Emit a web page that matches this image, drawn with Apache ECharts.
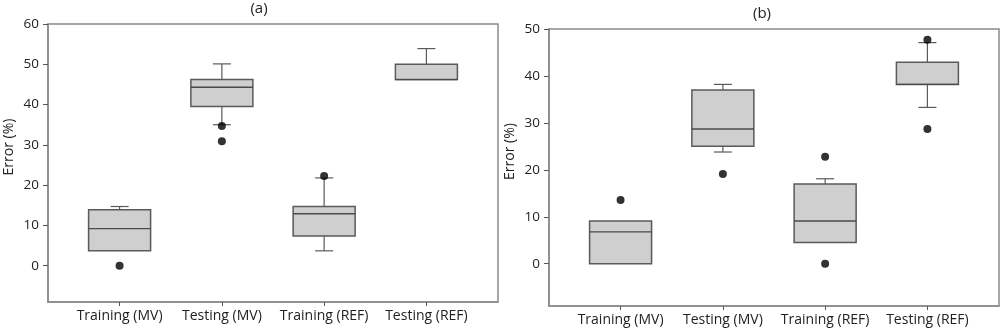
<!DOCTYPE html>
<html>
<head>
<meta charset="utf-8">
<script src="https://cdn.jsdelivr.net/npm/echarts@6/dist/echarts.min.js"></script>
<style>
html,body{margin:0;padding:0;background:#fff;}
#c{width:1000px;height:329px;}
</style>
</head>
<body>
<div id="c"></div>
<script>
// ---- data ----
var categories = ['Training (MV)', 'Testing (MV)', 'Training (REF)', 'Testing (REF)'];
var catPositions = [1, 2, 3, 4];

// panel (a)
var aMin = [3.7, 35.0, 3.7, 46.2];
var aQ1  = [3.7, 39.5, 7.4, 46.2];
var aMed = [9.2, 44.3, 12.9, 46.2];
var aQ3  = [13.9, 46.2, 14.7, 50.0];
var aMax = [14.7, 50.1, 21.8, 53.9];
var aOutliers = [[0], [34.7, 30.9], [22.3], []];
var aTicks = [0, 10, 20, 30, 40, 50, 60];

// panel (b)
var bMin = [0, 23.8, 4.5, 33.3];
var bQ1  = [0, 25.0, 4.5, 38.2];
var bMed = [6.8, 28.7, 9.1, 38.2];
var bQ3  = [9.1, 37.0, 17.0, 42.9];
var bMax = [9.1, 38.2, 18.1, 47.1];
var bOutliers = [[13.6], [19.1], [22.8, 0], [47.7, 28.7]];
var bTicks = [0, 10, 20, 30, 40, 50];

// ---- helpers ----
function boxData(mn, q1, md, q3, mx) {
  return catPositions.map(function (p, i) { return [p, mn[i], q1[i], md[i], q3[i], mx[i]]; });
}
function outlierData(out) {
  var r = [];
  out.forEach(function (arr, i) { arr.forEach(function (v) { r.push([catPositions[i], v]); }); });
  return r;
}
var FONT = '"Open Sans", "DejaVu Sans", sans-serif';
var BOXW = 62, CAPW = 18;
function renderBox(params, api) {
  var x = api.value(0);
  var pMin = api.coord([x, api.value(1)]);
  var pQ1 = api.coord([x, api.value(2)]);
  var pMed = api.coord([x, api.value(3)]);
  var pQ3 = api.coord([x, api.value(4)]);
  var pMax = api.coord([x, api.value(5)]);
  var cx = pMed[0];
  var lineStyle = { stroke: '#5a5a5a', lineWidth: 1.2 };
  var children = [];
  if (pMax[1] < pQ3[1] - 0.5) {
    children.push({ type: 'line', shape: { x1: cx, y1: pQ3[1], x2: cx, y2: pMax[1] }, style: lineStyle });
    children.push({ type: 'line', shape: { x1: cx - CAPW / 2, y1: pMax[1], x2: cx + CAPW / 2, y2: pMax[1] }, style: lineStyle });
  }
  if (pMin[1] > pQ1[1] + 0.5) {
    children.push({ type: 'line', shape: { x1: cx, y1: pQ1[1], x2: cx, y2: pMin[1] }, style: lineStyle });
    children.push({ type: 'line', shape: { x1: cx - CAPW / 2, y1: pMin[1], x2: cx + CAPW / 2, y2: pMin[1] }, style: lineStyle });
  }
  children.push({ type: 'rect', shape: { x: cx - BOXW / 2, y: pQ3[1], width: BOXW, height: pQ1[1] - pQ3[1] },
    style: { fill: '#cfcfcf', stroke: '#5a5a5a', lineWidth: 1.5 } });
  children.push({ type: 'line', shape: { x1: cx - BOXW / 2, y1: pMed[1], x2: cx + BOXW / 2, y2: pMed[1] }, style: { stroke: '#4a4a4a', lineWidth: 1.3 } });
  return { type: 'group', children: children };
}
function xAxisDef(gi) {
  return {
    type: 'value', gridIndex: gi, min: 0.3, max: 4.7,
    axisLine: { show: true, onZero: false, lineStyle: { color: '#8a8a8a', width: 1.5 } },
    axisTick: { show: true, customValues: catPositions, length: 4, lineStyle: { color: '#555' } },
    axisLabel: { show: true, customValues: catPositions, margin: 7, color: '#222', fontSize: 14, fontFamily: FONT,
      formatter: function (v) { var i = catPositions.indexOf(Math.round(v)); return i >= 0 ? categories[i] : ''; } },
    splitLine: { show: false }
  };
}
function yAxisDef(gi, max, ticks) {
  return {
    type: 'value', gridIndex: gi, min: -9, max: max,
    name: 'Error (%)', nameLocation: 'middle', nameGap: 32,
    nameTextStyle: { color: '#222', fontSize: 14, fontFamily: FONT, padding: [0, 0, 0, 32] },
    axisLine: { show: true, onZero: false, lineStyle: { color: '#8a8a8a', width: 1.5 } },
    axisTick: { show: true, customValues: ticks, length: 5, lineStyle: { color: '#555' } },
    axisLabel: { show: true, customValues: ticks, margin: 9, color: '#222', fontSize: 13.5, fontFamily: FONT },
    splitLine: { show: false }
  };
}

var chart = echarts.init(document.getElementById('c'), null, { renderer: 'canvas' });
chart.setOption({
  backgroundColor: '#ffffff',
  animation: false,
  title: [
    { text: '(a)', left: 259, top: 1, padding: 0, textAlign: 'center', textStyle: { fontSize: 15, fontWeight: 'normal', color: '#222', fontFamily: FONT } },
    { text: '(b)', left: 762, top: 6, padding: 0, textAlign: 'center', textStyle: { fontSize: 15, fontWeight: 'normal', color: '#222', fontFamily: FONT } }
  ],
  grid: [
    { left: 48, top: 24, width: 450, height: 278, outerBoundsMode: 'none', containLabel: false, show: true, borderColor: '#8a8a8a', borderWidth: 1.5, backgroundColor: 'transparent' },
    { left: 549, top: 29, width: 450, height: 277, outerBoundsMode: 'none', containLabel: false, show: true, borderColor: '#8a8a8a', borderWidth: 1.5, backgroundColor: 'transparent' }
  ],
  xAxis: [xAxisDef(0), xAxisDef(1)],
  yAxis: [yAxisDef(0, 60, aTicks), yAxisDef(1, 50, bTicks)],
  series: [
    { type: 'custom', xAxisIndex: 0, yAxisIndex: 0, renderItem: renderBox, data: boxData(aMin, aQ1, aMed, aQ3, aMax), encode: { x: 0, y: [1, 2, 3, 4, 5] } },
    { type: 'scatter', xAxisIndex: 0, yAxisIndex: 0, symbol: 'circle', symbolSize: 8, itemStyle: { color: '#000' }, data: outlierData(aOutliers), z: 5 },
    { type: 'custom', xAxisIndex: 1, yAxisIndex: 1, renderItem: renderBox, data: boxData(bMin, bQ1, bMed, bQ3, bMax), encode: { x: 0, y: [1, 2, 3, 4, 5] } },
    { type: 'scatter', xAxisIndex: 1, yAxisIndex: 1, symbol: 'circle', symbolSize: 8, itemStyle: { color: '#000' }, data: outlierData(bOutliers), z: 5 }
  ]
});
</script>
</body>
</html>
